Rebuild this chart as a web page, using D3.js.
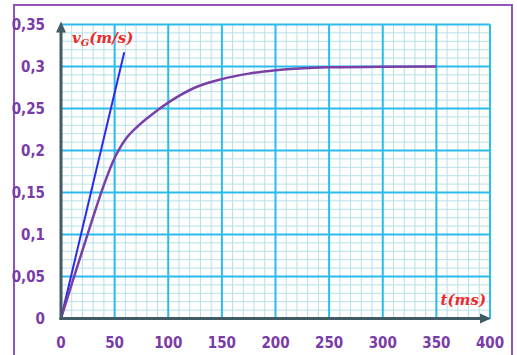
<!DOCTYPE html>
<html>
<head>
<meta charset="utf-8">
<script src="https://cdn.jsdelivr.net/npm/d3@7"></script>
<style>
  body { margin: 0; background: #fff; }
  .tick-label { font-family: "DejaVu Sans"; font-stretch: condensed; font-weight: bold; font-size: 15px; fill: #7a3ba8; }
  .title { font-family: "DejaVu Serif"; font-style: italic; font-weight: bold; fill: #ee2a2a; }
</style>
</head>
<body>
<div id="chart"></div>
<script>
// curve v_G(t)
var times = [0, 10, 20, 30, 40, 50, 55, 60, 70, 80, 90, 100, 110, 125, 150, 175, 200, 250, 300, 350];
var speeds = [0, 0.041, 0.081, 0.121, 0.159, 0.191, 0.203, 0.213, 0.227, 0.238, 0.248, 0.257, 0.265, 0.275, 0.285, 0.2915, 0.2955, 0.299, 0.2998, 0.3];

// tangent at origin
var tangentT = [0, 59];
var tangentV = [0, 0.317];

var xTicks = [0, 50, 100, 150, 200, 250, 300, 350, 400];
var yTicks = [0, 0.05, 0.1, 0.15, 0.2, 0.25, 0.3, 0.35];

var width = 517, height = 355;
var margin = {top: 24.5, right: 27, bottom: 36.5, left: 61};
var chartW = width - margin.left - margin.right,
    chartH = height - margin.top - margin.bottom;

var svg = d3.select("#chart").append("svg")
  .attr("width", width)
  .attr("height", height);

// outer frame
svg.append("rect")
  .attr("x", 14).attr("y", 5)
  .attr("width", 498).attr("height", 360)
  .attr("fill", "none")
  .attr("stroke", "#9254b8")
  .attr("stroke-width", 2);

var g = svg.append("g")
  .attr("transform", "translate(" + margin.left + "," + margin.top + ")");

var x = d3.scaleLinear().domain([0, 400]).range([0, chartW]);
var y = d3.scaleLinear().domain([0, 0.35]).range([chartH, 0]);

// minor grid
var minorX = d3.range(0, 401, 10), minorY = d3.range(0, 36, 1).map(function(d) { return d / 100; });
g.append("g").selectAll("line").data(minorX).enter().append("line")
  .attr("x1", function(d) { return x(d); }).attr("x2", function(d) { return x(d); })
  .attr("y1", 0).attr("y2", chartH)
  .attr("stroke", "#b7e0e8").attr("stroke-width", 1);
g.append("g").selectAll("line").data(minorY).enter().append("line")
  .attr("y1", function(d) { return y(d); }).attr("y2", function(d) { return y(d); })
  .attr("x1", 0).attr("x2", chartW)
  .attr("stroke", "#b7e0e8").attr("stroke-width", 1);

// major grid
g.append("g").selectAll("line").data(xTicks).enter().append("line")
  .attr("x1", function(d) { return x(d); }).attr("x2", function(d) { return x(d); })
  .attr("y1", 0).attr("y2", chartH)
  .attr("stroke", "#2bbbec").attr("stroke-width", 2);
g.append("g").selectAll("line").data(yTicks).enter().append("line")
  .attr("y1", function(d) { return y(d); }).attr("y2", function(d) { return y(d); })
  .attr("x1", 0).attr("x2", chartW)
  .attr("stroke", "#2bbbec").attr("stroke-width", 2);

// curves
var line = d3.line().curve(d3.curveMonotoneX)
  .x(function(d) { return x(d[0]); })
  .y(function(d) { return y(d[1]); });

g.append("path")
  .datum(d3.zip(tangentT, tangentV))
  .attr("d", d3.line().x(function(d) { return x(d[0]); }).y(function(d) { return y(d[1]); }))
  .attr("fill", "none").attr("stroke", "#2b2bec").attr("stroke-width", 2);

g.append("path")
  .datum(d3.zip(times, speeds))
  .attr("d", line)
  .attr("fill", "none").attr("stroke", "#7b3fa8").attr("stroke-width", 2.5);

// axes with arrows
var axisColor = "#405b63";
g.append("line").attr("x1", 0).attr("x2", 0).attr("y1", chartH + 1.5).attr("y2", 6)
  .attr("stroke", axisColor).attr("stroke-width", 3);
g.append("line").attr("x1", -1.5).attr("x2", chartW - 6).attr("y1", chartH).attr("y2", chartH)
  .attr("stroke", axisColor).attr("stroke-width", 3);
g.append("path").attr("d", "M0,-3 L-5,8 L5,8 Z").attr("fill", axisColor);
g.append("path").attr("d", "M" + (chartW + 1) + "," + chartH + " l-11,-5 l0,10 Z").attr("fill", axisColor);

// tick labels
var fmt = function(d) { return String(d).replace(".", ","); };
svg.append("g").selectAll("text").data(yTicks).enter().append("text")
  .attr("class", "tick-label")
  .attr("x", 45)
  .attr("y", function(d) { return margin.top + y(d); })
  .attr("dy", "0.36em")
  .attr("text-anchor", "end")
  .text(fmt);
svg.append("g").selectAll("text").data(xTicks).enter().append("text")
  .attr("class", "tick-label")
  .attr("x", function(d) { return margin.left + x(d); })
  .attr("y", 348)
  .attr("text-anchor", "middle")
  .text(fmt);

// axis titles
var vt = svg.append("text").attr("class", "title").attr("x", 72).attr("y", 43).attr("font-size", 15);
vt.append("tspan").text("v");
vt.append("tspan").attr("font-size", 10).attr("dy", 3).text("G");
vt.append("tspan").attr("dy", -3).text("(m/s)");

svg.append("text").attr("class", "title")
  .attr("x", 486).attr("y", 305).attr("font-size", 15)
  .attr("text-anchor", "end")
  .text("t(ms)");
</script>
</body>
</html>
